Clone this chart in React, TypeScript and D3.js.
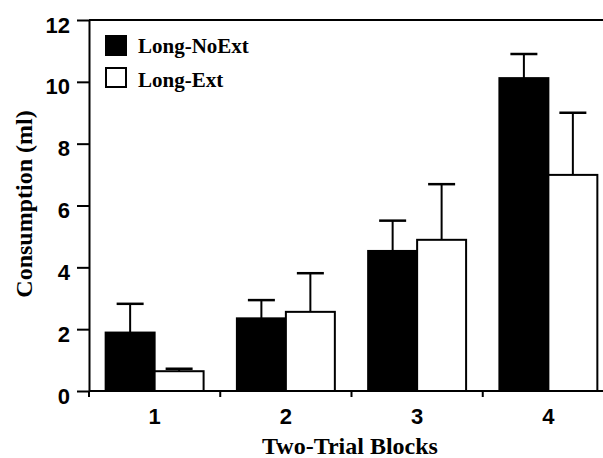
import React, { useEffect, useRef } from "react";
import * as d3 from "d3";

const blocks = ["1", "2", "3", "4"];
const groups = ["Long-NoExt", "Long-Ext"];
const noExtMean = [1.89, 2.35, 4.53, 10.12];
const noExtErr = [0.93, 0.59, 0.98, 0.78];
const extMean = [0.64, 2.56, 4.89, 6.99];
const extErr = [0.08, 1.25, 1.8, 2.01];
const yTicks = [0, 2, 4, 6, 8, 10, 12];

export default function App() {
  const ref = useRef<SVGSVGElement>(null);

  useEffect(() => {
    const width = 603;
    const height = 458;
    const svg = d3.select(ref.current).attr("width", width).attr("height", height);
    svg.selectAll("*").remove();

    const left = 89;
    const x = d3.scaleBand().domain(blocks).range([left, 614]).padding(0);
    const xi = d3.scaleBand().domain(groups).range([0, x.bandwidth()]).paddingInner(0).paddingOuter(0.34);
    const y = d3.scaleLinear().domain([0, 12]).range([391, 20]);

    const rows = blocks.map((b, i) => [
      { b, g: groups[0], v: noExtMean[i], e: noExtErr[i], fill: "#000" },
      { b, g: groups[1], v: extMean[i], e: extErr[i], fill: "#fff" },
    ]).flat();

    // error bars (behind bars)
    const eb = svg.append("g");
    rows.forEach((d) => {
      const cx = (x(d.b) as number) + (xi(d.g) as number) + xi.bandwidth() / 2;
      eb.append("line")
        .attr("x1", cx).attr("x2", cx)
        .attr("y1", y(d.v)).attr("y2", y(d.v + d.e))
        .attr("stroke", "#000").attr("stroke-width", 2);
      eb.append("line")
        .attr("x1", cx - 13.5).attr("x2", cx + 13.5)
        .attr("y1", y(d.v + d.e)).attr("y2", y(d.v + d.e))
        .attr("stroke", "#000").attr("stroke-width", 2.5);
    });

    svg.append("g")
      .selectAll("rect")
      .data(rows)
      .enter()
      .append("rect")
      .attr("x", (d) => (x(d.b) as number) + (xi(d.g) as number))
      .attr("y", (d) => y(d.v))
      .attr("width", xi.bandwidth())
      .attr("height", (d) => y(0) - y(d.v))
      .attr("fill", (d) => d.fill)
      .attr("stroke", "#000")
      .attr("stroke-width", 2);

    // top frame
    svg.append("line")
      .attr("x1", left).attr("x2", width)
      .attr("y1", y(12)).attr("y2", y(12))
      .attr("stroke", "#000").attr("stroke-width", 2);

    const yAxis = svg.append("g")
      .attr("transform", `translate(${left},0)`)
      .call(d3.axisLeft(y).tickValues(yTicks).tickSize(12).tickPadding(7).tickSizeOuter(0));
    yAxis.select(".domain").attr("stroke-width", 2);
    yAxis.selectAll(".tick line").attr("stroke-width", 2);
    yAxis.selectAll(".tick text")
      .attr("font-family", "Liberation Sans, Arial, sans-serif")
      .attr("font-weight", "bold")
      .attr("font-size", 22)
      .attr("dy", "0.55em")
      .attr("fill", "#000");

    const xAxis = svg.append("g")
      .attr("transform", `translate(0,${y(0)})`)
      .call(d3.axisBottom(x).tickSize(0).tickPadding(0).tickSizeOuter(0));
    xAxis.select(".domain").attr("d", `M${left},0H${width}`).attr("stroke-width", 2);
    xAxis.selectAll(".tick text")
      .attr("font-family", "Liberation Sans, Arial, sans-serif")
      .attr("font-weight", "bold")
      .attr("font-size", 22)
      .attr("y", 33)
      .attr("dy", 0)
      .attr("fill", "#000");
    // ticks between blocks
    xAxis.append("g")
      .selectAll("line")
      .data(blocks)
      .enter()
      .append("line")
      .attr("x1", (d) => x(d) as number)
      .attr("x2", (d) => x(d) as number)
      .attr("y1", 0).attr("y2", 6)
      .attr("stroke", "#000").attr("stroke-width", 2);

    const serif = "Liberation Serif, Times New Roman, serif";
    svg.append("text")
      .attr("x", 350).attr("y", 454)
      .attr("text-anchor", "middle")
      .attr("font-family", serif).attr("font-weight", "bold").attr("font-size", 24)
      .text("Two-Trial Blocks");
    svg.append("text")
      .attr("transform", "translate(32,204) rotate(-90)")
      .attr("text-anchor", "middle")
      .attr("font-family", serif).attr("font-weight", "bold").attr("font-size", 24)
      .text("Consumption (ml)");

    // legend
    const leg = svg.append("g");
    groups.forEach((g, i) => {
      leg.append("rect")
        .attr("x", 106).attr("y", 36 + i * 32)
        .attr("width", 20).attr("height", 19)
        .attr("fill", i === 0 ? "#000" : "#fff")
        .attr("stroke", "#000").attr("stroke-width", 2);
      leg.append("text")
        .attr("x", 138).attr("y", 53 + i * 34)
        .attr("font-family", serif).attr("font-weight", "bold").attr("font-size", 21)
        .text(g);
    });
  }, []);

  return <svg ref={ref} style={{ position: "absolute", left: 0, top: 0, background: "#fff" }} />;
}
